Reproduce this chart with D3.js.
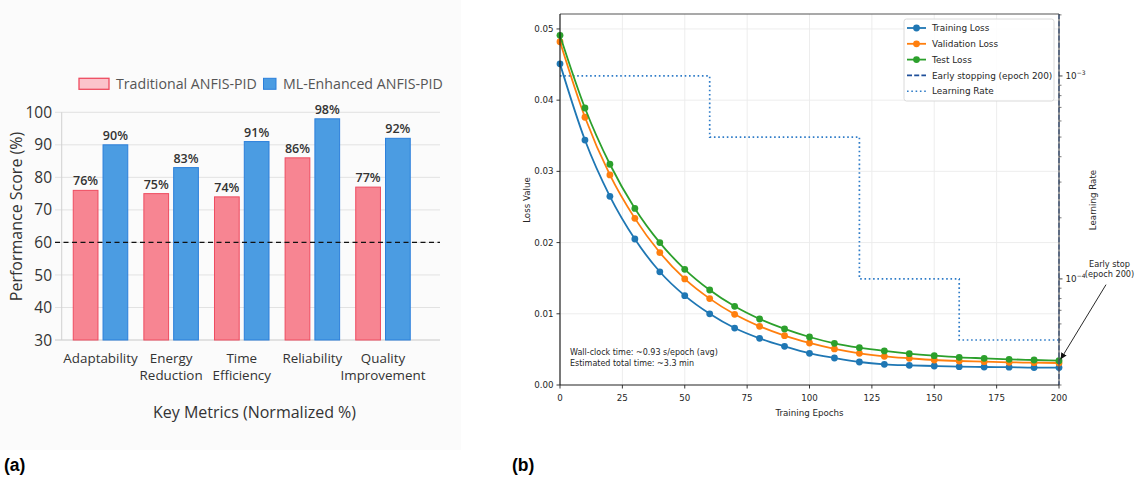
<!DOCTYPE html>
<html>
<head>
<meta charset="utf-8">
<script src="https://cdn.jsdelivr.net/npm/d3@7"></script>
<style>
  body { margin: 0; background: #fff; }
  svg { display: block; }
</style>
</head>
<body>
<svg id="fig" width="1135" height="477"></svg>
<script>
// ---------- Panel (a): key metric scores ----------
const metrics = ["Adaptability", "Energy Reduction", "Time Efficiency", "Reliability", "Quality Improvement"];
const seriesNames = ["Traditional ANFIS-PID", "ML-Enhanced ANFIS-PID"];
const traditionalScores = [76, 75, 74, 86, 77];
const enhancedScores = [90, 83, 91, 98, 92];
const scoreTicks = [30, 40, 50, 60, 70, 80, 90, 100];
const thresholdScore = 60;

// ---------- Panel (b): training curves ----------
const epochs = [0, 10, 20, 30, 40, 50, 60, 70, 80, 90, 100, 110, 120, 130, 140, 150, 160, 170, 180, 190, 200];
const trainingLoss = [0.0451, 0.0344, 0.0265, 0.0205, 0.0159, 0.01255, 0.0100, 0.0080, 0.00655, 0.00543, 0.00445,
                      0.00379, 0.00323, 0.00290, 0.00276, 0.00267, 0.00258, 0.00253, 0.00250, 0.00245, 0.00245];
const validationLoss = [0.0482, 0.0376, 0.0295, 0.0234, 0.0186, 0.0149, 0.01213, 0.00993, 0.00824, 0.00693, 0.0059,
                        0.00506, 0.00445, 0.00403, 0.00375, 0.00351, 0.00337, 0.00328, 0.00318, 0.00314, 0.00309];
const testLoss = [0.0491, 0.0389, 0.0310, 0.0248, 0.0200, 0.01625, 0.01334, 0.01105, 0.00927, 0.00787, 0.00674,
                  0.00585, 0.00524, 0.00478, 0.00440, 0.00412, 0.00389, 0.00375, 0.00361, 0.00351, 0.00342];
const lrEpochs = [0, 60, 120, 160, 200];
const learningRates = [1e-3, 5e-4, 1e-4, 5e-5, 5e-5];
const epochTicks = [0, 25, 50, 75, 100, 125, 150, 175, 200];
const lossTicks = [0, 0.01, 0.02, 0.03, 0.04, 0.05];
const lrMajorTicks = [1e-3, 1e-4];
const lrMajorLabels = ["−3", "−4"];
const earlyStopEpoch = 200;
const wallClockNote = ["Wall-clock time: ~0.93 s/epoch (avg)", "Estimated total time: ~3.3 min"];

const svg = d3.select("#fig");

// ================= Panel (a) =================
const A = {
  font: "'Open Sans', 'DejaVu Sans', sans-serif",
  pinkFill: "#f78592", pinkStroke: "#ee4c60",
  blueFill: "#4b9ce2", blueStroke: "#2b7fdb"
};
const gA = svg.append("g");
gA.append("rect").attr("x", 0).attr("y", 0).attr("width", 461).attr("height", 450).attr("fill", "#fbfbfb");

const yA = d3.scaleLinear().domain([30, 100]).range([340, 112.3]);
const x0 = d3.scaleBand().domain(metrics).range([65.2, 418.3]).paddingInner(0.228).paddingOuter(0.114);
const x1 = d3.scaleBand().domain(seriesNames).range([0, x0.bandwidth()]).paddingInner(0.17);

// horizontal grid
gA.append("g").selectAll("line").data(scoreTicks).join("line")
  .attr("x1", 55).attr("x2", 440)
  .attr("y1", d => yA(d)).attr("y2", d => yA(d))
  .attr("stroke", d => d === 30 ? "#c8c8c8" : "#e2e2e2").attr("stroke-width", 1);
gA.append("line").attr("x1", 61.7).attr("x2", 61.7).attr("y1", yA(100)).attr("y2", yA(30))
  .attr("stroke", "#d0d0d0").attr("stroke-width", 1);

// y tick labels
gA.append("g").selectAll("text").data(scoreTicks).join("text")
  .attr("x", 52).attr("y", d => yA(d)).attr("dy", "0.36em")
  .attr("text-anchor", "end").attr("font-family", A.font).attr("font-size", 15.5)
  .attr("fill", "#333").text(d => d);

// bars
const rows = metrics.map((m, i) => ({ metric: m, values: [traditionalScores[i], enhancedScores[i]] }));
const groups = gA.append("g").selectAll("g").data(rows).join("g")
  .attr("transform", d => `translate(${x0(d.metric)},0)`);
groups.selectAll("rect").data(d => d.values.map((v, j) => ({ s: seriesNames[j], v, j }))).join("rect")
  .attr("x", d => x1(d.s)).attr("width", x1.bandwidth())
  .attr("y", d => yA(d.v)).attr("height", d => yA(30) - yA(d.v))
  .attr("fill", d => d.j === 0 ? A.pinkFill : A.blueFill)
  .attr("stroke", d => d.j === 0 ? A.pinkStroke : A.blueStroke).attr("stroke-width", 1);
groups.selectAll("text").data(d => d.values.map((v, j) => ({ s: seriesNames[j], v, j }))).join("text")
  .attr("x", d => x1(d.s) + x1.bandwidth() / 2).attr("y", d => yA(d.v) - 5)
  .attr("text-anchor", "middle").attr("font-family", A.font).attr("font-size", 12.5)
  .attr("font-weight", 600).attr("fill", "#333").text(d => d.v + "%");

// threshold line
gA.append("line").attr("x1", 55).attr("x2", 440)
  .attr("y1", yA(thresholdScore)).attr("y2", yA(thresholdScore))
  .attr("stroke", "#111").attr("stroke-width", 1.4).attr("stroke-dasharray", "5,3.5");

// category labels
const catG = gA.append("g").selectAll("text").data(metrics).join("text")
  .attr("x", d => x0(d) + x0.bandwidth() / 2).attr("y", 362.5)
  .attr("text-anchor", "middle").attr("font-family", A.font).attr("font-size", 13.4).attr("fill", "#333");
catG.selectAll("tspan").data(d => d.split(" ")).join("tspan")
  .attr("x", function () { return d3.select(this.parentNode).attr("x"); })
  .attr("dy", (d, i) => i === 0 ? 0 : 17).text(d => d);

// axis titles
gA.append("text").attr("x", 254.5).attr("y", 418).attr("text-anchor", "middle")
  .attr("font-family", A.font).attr("font-size", 16).attr("fill", "#333").text("Key Metrics (Normalized %)");
gA.append("text").attr("transform", "translate(22,216.5) rotate(-90)").attr("text-anchor", "middle")
  .attr("font-family", A.font).attr("font-size", 16).attr("fill", "#333").text("Performance Score (%)");

// legend
const legA = gA.append("g");
legA.append("rect").attr("x", 79).attr("y", 78.3).attr("width", 30).attr("height", 11)
  .attr("fill", "#fbc3cb").attr("stroke", A.pinkStroke).attr("stroke-width", 1.3);
legA.append("text").attr("x", 116).attr("y", 84).attr("dy", "0.36em")
  .attr("font-family", A.font).attr("font-size", 14.2).attr("fill", "#555").text(seriesNames[0]);
legA.append("rect").attr("x", 263.5).attr("y", 78.3).attr("width", 12.5).attr("height", 11)
  .attr("fill", A.blueFill).attr("stroke", A.blueStroke).attr("stroke-width", 1);
legA.append("text").attr("x", 283).attr("y", 84).attr("dy", "0.36em")
  .attr("font-family", A.font).attr("font-size", 14.2).attr("fill", "#555").text(seriesNames[1]);

// panel tag
svg.append("text").attr("x", 4).attr("y", 471).attr("font-family", "'Liberation Sans', Arial, sans-serif")
  .attr("font-size", 17.5).attr("font-weight", "bold").attr("fill", "#000").text("(a)");

// ================= Panel (b) =================
const B = { font: "'DejaVu Sans', sans-serif", fs: 8.7, text: "#262626" };
const gB = svg.append("g");
const xB = d3.scaleLinear().domain([0, 200]).range([560, 1059]);
const yB = d3.scaleLinear().domain([0, 0.0521]).range([385, 14]);
const yLR = d3.scaleLog().domain([3e-5, 2.02e-3]).range([385, 14]);

// grid
gB.append("g").selectAll("line").data(epochTicks).join("line")
  .attr("x1", d => xB(d)).attr("x2", d => xB(d)).attr("y1", 14).attr("y2", 385)
  .attr("stroke", "#ebebeb").attr("stroke-width", 0.9);
gB.append("g").selectAll("line").data(lossTicks.slice(1)).join("line")
  .attr("x1", 560).attr("x2", 1059).attr("y1", d => yB(d)).attr("y2", d => yB(d))
  .attr("stroke", "#ebebeb").attr("stroke-width", 0.9);

// learning-rate schedule (right axis)
const lrPts = lrEpochs.map((e, i) => [e, learningRates[i]]);
gB.append("path").datum(lrPts)
  .attr("d", d3.line().x(d => xB(d[0])).y(d => yLR(d[1])).curve(d3.curveStepAfter))
  .attr("fill", "none").attr("stroke", "#2f7cc8").attr("stroke-width", 1.7)
  .attr("stroke-dasharray", "1.6,2.7");

// loss curves
const lossSeries = [
  { name: "Training Loss", values: trainingLoss, color: "#1f77b4" },
  { name: "Validation Loss", values: validationLoss, color: "#ff7f0e" },
  { name: "Test Loss", values: testLoss, color: "#2ca02c" }
];
const lossLine = d3.line().x((d, i) => xB(epochs[i])).y(d => yB(d)).curve(d3.curveMonotoneX);
lossSeries.forEach(s => {
  const g = gB.append("g");
  g.append("path").datum(s.values).attr("d", lossLine)
    .attr("fill", "none").attr("stroke", s.color).attr("stroke-width", 1.8);
  g.selectAll("circle").data(s.values).join("circle")
    .attr("cx", (d, i) => xB(epochs[i])).attr("cy", d => yB(d)).attr("r", 3.4)
    .attr("fill", s.color);
});

// early stopping marker
gB.append("line").attr("x1", xB(earlyStopEpoch)).attr("x2", xB(earlyStopEpoch))
  .attr("y1", 14).attr("y2", 385).attr("stroke", "#1f4f9a").attr("stroke-width", 1.3)
  .attr("stroke-dasharray", "5,2.2");

// spines
gB.append("line").attr("x1", 560).attr("x2", 1059).attr("y1", 14).attr("y2", 14).attr("stroke", "#555").attr("stroke-width", 1.1);
gB.append("line").attr("x1", 1059).attr("x2", 1059).attr("y1", 14).attr("y2", 385).attr("stroke", "#555").attr("stroke-width", 1.1);
gB.append("line").attr("x1", 560).attr("x2", 1059).attr("y1", 385).attr("y2", 385).attr("stroke", "#222").attr("stroke-width", 1.1);
gB.append("line").attr("x1", 560).attr("x2", 560).attr("y1", 14).attr("y2", 385).attr("stroke", "#111").attr("stroke-width", 1.1);

// x ticks
gB.append("g").selectAll("line").data(epochTicks).join("line")
  .attr("x1", d => xB(d)).attr("x2", d => xB(d)).attr("y1", 385).attr("y2", 388.5).attr("stroke", "#222").attr("stroke-width", 0.9);
gB.append("g").selectAll("text").data(epochTicks).join("text")
  .attr("x", d => xB(d)).attr("y", 401).attr("text-anchor", "middle")
  .attr("font-family", B.font).attr("font-size", B.fs).attr("fill", B.text).text(d => d);

// y ticks (loss)
gB.append("g").selectAll("line").data(lossTicks).join("line")
  .attr("x1", 556.5).attr("x2", 560).attr("y1", d => yB(d)).attr("y2", d => yB(d)).attr("stroke", "#222").attr("stroke-width", 0.9);
gB.append("g").selectAll("text").data(lossTicks).join("text")
  .attr("x", 553.5).attr("y", d => yB(d)).attr("dy", "0.34em").attr("text-anchor", "end")
  .attr("font-family", B.font).attr("font-size", B.fs).attr("fill", B.text).text(d => d3.format(".2f")(d));

// right log axis: minor and major ticks
const lrMinor = [];
[-5, -4, -3].forEach(e => { for (let k = 2; k <= 9; k++) { const v = k * Math.pow(10, e); if (v >= 3e-5 && v <= 2.02e-3) lrMinor.push(v); } });
gB.append("g").selectAll("line").data(lrMinor).join("line")
  .attr("x1", 1059).attr("x2", 1061.5).attr("y1", d => yLR(d)).attr("y2", d => yLR(d)).attr("stroke", "#444").attr("stroke-width", 0.7);
gB.append("g").selectAll("line").data(lrMajorTicks).join("line")
  .attr("x1", 1059).attr("x2", 1062.5).attr("y1", d => yLR(d)).attr("y2", d => yLR(d)).attr("stroke", "#333").attr("stroke-width", 0.9);
const lrLab = gB.append("g").selectAll("text").data(lrMajorTicks).join("text")
  .attr("x", 1065.5).attr("y", d => yLR(d) + 3.3)
  .attr("font-family", B.font).attr("font-size", 8.8).attr("fill", B.text);
lrLab.append("tspan").text("10");
lrLab.append("tspan").attr("dy", -3.8).attr("font-size", 6).text((d, i) => lrMajorLabels[i]);

// axis titles
gB.append("text").attr("x", xB(100)).attr("y", 415.5).attr("text-anchor", "middle")
  .attr("font-family", B.font).attr("font-size", B.fs).attr("fill", B.text).text("Training Epochs");
gB.append("text").attr("transform", "translate(529.5,200) rotate(-90)").attr("text-anchor", "middle")
  .attr("font-family", B.font).attr("font-size", B.fs).attr("fill", B.text).text("Loss Value");
gB.append("text").attr("transform", "translate(1096,200) rotate(-90)").attr("text-anchor", "middle")
  .attr("font-family", B.font).attr("font-size", B.fs).attr("fill", B.text).text("Learning Rate");

// timing note
gB.append("text").attr("x", 570).attr("y", 355)
  .attr("font-family", B.font).attr("font-size", 8).attr("fill", B.text)
  .selectAll("tspan").data(wallClockNote).join("tspan")
  .attr("x", 570).attr("dy", (d, i) => i === 0 ? 0 : 10.6).text(d => d);

// early stop annotation
svg.append("defs").append("marker").attr("id", "arrowHead").attr("viewBox", "0 0 10 10")
  .attr("refX", 9).attr("refY", 5).attr("markerWidth", 7).attr("markerHeight", 7).attr("orient", "auto")
  .append("path").attr("d", "M0,0 L10,5 L0,10 z").attr("fill", "#111");
const tx = xB(earlyStopEpoch), ty = yB(testLoss[testLoss.length - 1]);
gB.append("line").attr("x1", tx + 47).attr("y1", ty - 76).attr("x2", tx + 2).attr("y2", ty - 2)
  .attr("stroke", "#111").attr("stroke-width", 0.9).attr("marker-end", "url(#arrowHead)");
gB.append("text").attr("x", tx + 50.5).attr("y", ty - 94)
  .attr("text-anchor", "middle").attr("font-family", B.font).attr("font-size", 8.2).attr("fill", B.text)
  .selectAll("tspan").data(["Early stop", "(epoch " + earlyStopEpoch + ")"]).join("tspan")
  .attr("x", tx + 50.5).attr("dy", (d, i) => i === 0 ? 0 : 10.6).text(d => d);

// legend
const legB = gB.append("g");
legB.append("rect").attr("x", 904).attr("y", 19).attr("width", 150).attr("height", 82).attr("rx", 2.5)
  .attr("fill", "#fff").attr("fill-opacity", 0.85).attr("stroke", "#d6d6d6").attr("stroke-width", 0.9);
const legItems = [
  { label: lossSeries[0].name, color: lossSeries[0].color, type: "marker" },
  { label: lossSeries[1].name, color: lossSeries[1].color, type: "marker" },
  { label: lossSeries[2].name, color: lossSeries[2].color, type: "marker" },
  { label: "Early stopping (epoch " + earlyStopEpoch + ")", color: "#1f4f9a", type: "dash" },
  { label: "Learning Rate", color: "#2f7cc8", type: "dot" }
];
const legRow = legB.selectAll("g").data(legItems).join("g")
  .attr("transform", (d, i) => `translate(0,${28 + i * 15.8})`);
legRow.append("line").attr("x1", 907).attr("x2", 926).attr("y1", 0).attr("y2", 0)
  .attr("stroke", d => d.color).attr("stroke-width", d => d.type === "marker" ? 1.8 : 1.6)
  .attr("stroke-dasharray", d => d.type === "dash" ? "5,2.2" : d.type === "dot" ? "1.6,2.7" : null);
legRow.filter(d => d.type === "marker").append("circle").attr("cx", 916.5).attr("cy", 0).attr("r", 3.4)
  .attr("fill", d => d.color);
legRow.append("text").attr("x", 932).attr("y", 0).attr("dy", "0.35em")
  .attr("font-family", B.font).attr("font-size", 8.9).attr("fill", B.text).text(d => d.label);

// panel tag
svg.append("text").attr("x", 512).attr("y", 471).attr("font-family", "'Liberation Sans', Arial, sans-serif")
  .attr("font-size", 17.5).attr("font-weight", "bold").attr("fill", "#000").text("(b)");
</script>
</body>
</html>
